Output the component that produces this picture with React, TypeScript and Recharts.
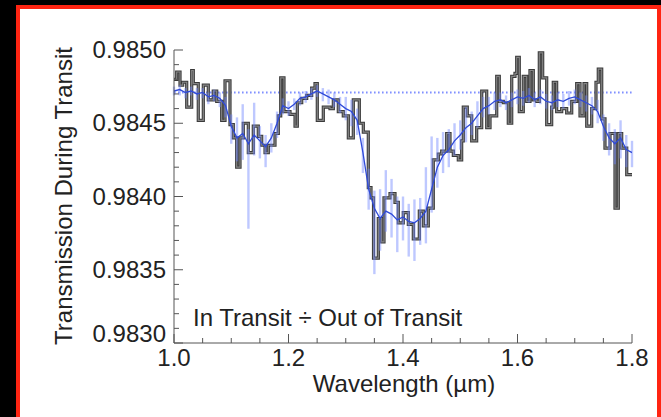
import { ComposedChart, ErrorBar, Line, ReferenceLine, XAxis, YAxis } from 'recharts';

// binned transmission spectrum: left bin edges (µm) and bin values
const binEdges = [
    1.0, 1.0047, 1.0105, 1.0152, 1.0222, 1.0309, 1.0337, 1.0424, 1.0512, 1.0599,
    1.0686, 1.0746, 1.0833, 1.0891, 1.0978, 1.1036, 1.1095, 1.1153, 1.121, 1.1298,
    1.1385, 1.1472, 1.1532, 1.159, 1.1647, 1.1764, 1.1822, 1.1864, 1.1921, 1.2026,
    1.2114, 1.2154, 1.2231, 1.2318, 1.2405, 1.2463, 1.2503, 1.2608, 1.2725, 1.2783,
    1.287, 1.2957, 1.3045, 1.3132, 1.3237, 1.3307, 1.3394, 1.3441, 1.3485, 1.3569,
    1.3628, 1.3668, 1.3773, 1.386, 1.3918, 1.4005, 1.4093, 1.418, 1.4285, 1.4355,
    1.4442, 1.4529, 1.4617, 1.4676, 1.4763, 1.4821, 1.4879, 1.4966, 1.5025, 1.5053,
    1.5123, 1.52, 1.5287, 1.5375, 1.5462, 1.552, 1.5637, 1.5682, 1.5752, 1.5839,
    1.5899, 1.5956, 1.5986, 1.6031, 1.6101, 1.6161, 1.6218, 1.6276, 1.6335, 1.6381,
    1.644, 1.651, 1.6597, 1.6625, 1.6684, 1.6772, 1.6859, 1.6947, 1.7034, 1.7092,
    1.7162, 1.7209, 1.7296, 1.7371, 1.7411, 1.7471, 1.7528, 1.7616, 1.7703, 1.7761,
    1.782, 1.7908, 1.8,
];
const binValues = [
    0.9848, 0.98485, 0.98476, 0.98478, 0.98461, 0.98486, 0.98477, 0.98452, 0.98476, 0.98466,
    0.98472, 0.98465, 0.98452, 0.98479, 0.98449, 0.9844, 0.9842, 0.9844, 0.9845, 0.9843,
    0.98448, 0.98441, 0.98435, 0.9843, 0.98435, 0.98443, 0.98455, 0.98481, 0.98458, 0.98456,
    0.98448, 0.98464, 0.98467, 0.98469, 0.98474, 0.98477, 0.98452, 0.98461, 0.9846, 0.98466,
    0.98458, 0.98455, 0.9844, 0.98466, 0.9845, 0.98444, 0.98406, 0.98399, 0.98358, 0.98385,
    0.98369, 0.98399, 0.98402, 0.98396, 0.98382, 0.98389, 0.98381, 0.98371, 0.9839, 0.9838,
    0.98392, 0.98425, 0.98429, 0.98431, 0.98443, 0.98431, 0.98428, 0.98425, 0.98438, 0.98461,
    0.98455, 0.98438, 0.98447, 0.98472, 0.98447, 0.98455, 0.98482, 0.98465, 0.98464, 0.9845,
    0.98482, 0.98484, 0.98495, 0.98458, 0.98482, 0.98465, 0.98486, 0.98466, 0.98465, 0.98498,
    0.98481, 0.98449, 0.98461, 0.98478, 0.98458, 0.9846, 0.98457, 0.98465, 0.98477, 0.98455,
    0.98477, 0.98448, 0.9846, 0.98478, 0.98487, 0.98453, 0.98433, 0.98443, 0.98392, 0.98443,
    0.98433, 0.98415,
];

// higher resolution spectrum with asymmetric errors (errors in units of 1e-5)
const fineWave = [
    1.0, 1.01, 1.02, 1.03, 1.04, 1.05, 1.06, 1.07, 1.08, 1.09,
    1.1, 1.11, 1.12, 1.13, 1.14, 1.15, 1.16, 1.17, 1.18, 1.19,
    1.2, 1.21, 1.22, 1.23, 1.24, 1.25, 1.26, 1.27, 1.28, 1.29,
    1.3, 1.31, 1.32, 1.33, 1.34, 1.35, 1.36, 1.37, 1.38, 1.39,
    1.4, 1.41, 1.42, 1.43, 1.44, 1.45, 1.46, 1.47, 1.48, 1.49,
    1.5, 1.51, 1.52, 1.53, 1.54, 1.55, 1.56, 1.57, 1.58, 1.59,
    1.6, 1.61, 1.62, 1.63, 1.64, 1.65, 1.66, 1.67, 1.68, 1.69,
    1.7, 1.71, 1.72, 1.73, 1.74, 1.75, 1.76, 1.77, 1.78, 1.79,
    1.8,
];
const fineFlux = [
    0.98472, 0.98473, 0.98471, 0.98472, 0.9847, 0.98471, 0.98468, 0.98469, 0.98467, 0.98462,
    0.98448, 0.9844, 0.98443, 0.98436, 0.98442, 0.98438, 0.98434, 0.9844, 0.9845, 0.98462,
    0.9846, 0.98463, 0.98467, 0.98468, 0.9847, 0.98472, 0.9847, 0.98468, 0.98466, 0.98463,
    0.9846, 0.98458, 0.98452, 0.9843, 0.98405, 0.98392, 0.98385, 0.9839, 0.98388, 0.98384,
    0.98386, 0.98383, 0.98382, 0.98385, 0.9839, 0.98405, 0.9842, 0.98428, 0.98432, 0.98438,
    0.98442, 0.98447, 0.9845, 0.98455, 0.9846, 0.98462, 0.98465, 0.98466, 0.98464, 0.98466,
    0.98468, 0.98467, 0.98469, 0.98466, 0.98468, 0.98465, 0.98464, 0.98466, 0.98465, 0.98467,
    0.98468, 0.98466, 0.98464, 0.98462, 0.98458, 0.98448, 0.9844, 0.98436, 0.9844, 0.98432,
    0.9843,
];
const errLow = [
    3, 4, 4, 3, 4, 4, 5, 4, 6, 8,
    12, 16, 18, 58, 14, 12, 14, 10, 10, 6,
    5, 4, 5, 4, 4, 4, 5, 5, 5, 6,
    8, 10, 10, 14, 14, 45, 22, 14, 16, 22,
    16, 24, 26, 18, 22, 16, 14, 12, 12, 10,
    10, 10, 8, 8, 6, 6, 6, 5, 5, 5,
    5, 5, 5, 5, 5, 5, 5, 5, 5, 5,
    5, 5, 6, 6, 8, 10, 12, 14, 14, 12,
    10,
];
const errHigh = [
    3, 3, 3, 3, 4, 3, 3, 4, 4, 6,
    8, 14, 20, 10, 22, 10, 8, 10, 8, 5,
    5, 4, 4, 4, 4, 4, 4, 5, 5, 5,
    8, 8, 8, 10, 14, 12, 20, 28, 24, 16,
    14, 12, 16, 14, 30, 36, 20, 16, 14, 12,
    10, 14, 8, 10, 8, 6, 6, 5, 5, 5,
    5, 5, 5, 5, 5, 5, 5, 5, 5, 5,
    5, 5, 5, 6, 8, 8, 10, 10, 12, 10,
    8,
];

const outOfTransitLevel = 0.98471;

const xTicks = [
    1.0, 1.05, 1.1, 1.15, 1.2, 1.25, 1.3, 1.35, 1.4, 1.45, 1.5, 1.55, 1.6, 1.65, 1.7, 1.75, 1.8,
];
const yTicks = [
    0.983, 0.9831, 0.9832, 0.9833, 0.9834, 0.9835, 0.9836, 0.9837, 0.9838, 0.9839, 0.984,
    0.9841, 0.9842, 0.9843, 0.9844, 0.9845, 0.9846, 0.9847, 0.9848, 0.9849, 0.985,
];

const histogram = binEdges.map((w, i) => ({ w, v: binValues[Math.min(i, binValues.length - 1)] }));
const fine = fineWave.map((w, i) => ({
    w,
    v: fineFlux[i],
    err: [errLow[i] * 1e-5, errHigh[i] * 1e-5],
}));

const FONT = '"Liberation Sans", Arial, Helvetica, sans-serif';
const INK = '#222';
const AXIS = '#555';

const onStep = (v: number, step: number) => Math.abs(v / step - Math.round(v / step)) < 1e-4;

function XTick(props: any) {
    const { x, y, payload, dir, labelled } = props;
    const major = onStep(payload.value, 0.2);
    const len = major ? 9 : 5;
    return (
        <g>
            <line x1={x} x2={x} y1={y} y2={y + dir * len} stroke={AXIS} strokeWidth={1} />
            {labelled && major && (
                <text x={x} y={y + 23} textAnchor='middle' fontSize={24} fontFamily={FONT} fill={INK}>
                    {payload.value.toFixed(1)}
                </text>
            )}
        </g>
    );
}

function YTick(props: any) {
    const { x, y, payload, dir, labelled } = props;
    const major = onStep(payload.value, 0.0005);
    const len = major ? 9 : 5;
    // the lowest label is lifted clear of the wavelength labels
    const lift = payload.value < 0.98305 ? -9 : 0;
    return (
        <g>
            <line x1={x} x2={x + dir * len} y1={y} y2={y} stroke={AXIS} strokeWidth={1} />
            {labelled && major && (
                <text x={x - 8} y={y + 8 + lift} textAnchor='end' fontSize={24} fontFamily={FONT} fill={INK}>
                    {payload.value.toFixed(4)}
                </text>
            )}
        </g>
    );
}

export default function App() {
    return (
        <div style={{ position: 'absolute', left: 0, top: 0, width: 661, height: 417, background: '#000', overflow: 'hidden' }}>
            <div
                style={{
                    position: 'absolute',
                    left: 16,
                    top: 5,
                    width: 645,
                    height: 430,
                    boxSizing: 'border-box',
                    border: '4px solid #ff2412',
                    background: '#fff',
                }}
            />
            <div style={{ position: 'absolute', left: 0, top: 0 }}>
                <ComposedChart width={661} height={417} margin={{ top: 50, right: 29, bottom: 14, left: 74 }}>
                    <XAxis
                        xAxisId='bottom'
                        dataKey='w'
                        type='number'
                        domain={[1.0, 1.8]}
                        ticks={xTicks}
                        interval={0}
                        allowDataOverflow
                        height={60}
                        tickSize={0}
                        tickMargin={0}
                        axisLine={{ stroke: AXIS }}
                        tickLine={false}
                        tick={(p: any) => <XTick {...p} dir={-1} labelled />}
                    />
                    <XAxis
                        xAxisId='top'
                        orientation='top'
                        dataKey='w'
                        type='number'
                        domain={[1.0, 1.8]}
                        ticks={xTicks}
                        interval={0}
                        allowDataOverflow
                        height={0}
                        tickSize={0}
                        tickMargin={0}
                        axisLine={{ stroke: AXIS }}
                        tickLine={false}
                        tick={(p: any) => <XTick {...p} dir={1} />}
                    />
                    <YAxis
                        yAxisId='left'
                        type='number'
                        domain={[0.983, 0.985]}
                        ticks={yTicks}
                        interval={0}
                        allowDataOverflow
                        width={100}
                        tickSize={0}
                        tickMargin={0}
                        axisLine={{ stroke: AXIS }}
                        tickLine={false}
                        tick={(p: any) => <YTick {...p} dir={1} labelled />}
                    />
                    <YAxis
                        yAxisId='right'
                        orientation='right'
                        type='number'
                        domain={[0.983, 0.985]}
                        ticks={yTicks}
                        interval={0}
                        allowDataOverflow
                        width={0}
                        tickSize={0}
                        tickMargin={0}
                        axisLine={{ stroke: AXIS }}
                        tickLine={false}
                        tick={(p: any) => <YTick {...p} dir={-1} />}
                    />

                    <ReferenceLine
                        xAxisId='bottom'
                        yAxisId='left'
                        y={outOfTransitLevel}
                        stroke='#8090ff'
                        strokeWidth={1.8}
                        strokeDasharray='1.6 2.4'
                    />

                    {/* binned spectrum: dark edge with a grey core */}
                    <Line
                        xAxisId='bottom'
                        yAxisId='left'
                        data={histogram}
                        dataKey='v'
                        type='stepAfter'
                        stroke='#3a3a3a'
                        strokeWidth={3.2}
                        dot={false}
                        isAnimationActive={false}
                    />
                    <Line
                        xAxisId='bottom'
                        yAxisId='left'
                        data={histogram}
                        dataKey='v'
                        type='stepAfter'
                        stroke='#858585'
                        strokeWidth={1.2}
                        dot={false}
                        isAnimationActive={false}
                    />

                    {/* fine spectrum error bars, then its line on top */}
                    <Line
                        xAxisId='bottom'
                        yAxisId='left'
                        data={fine}
                        dataKey='v'
                        stroke='none'
                        dot={false}
                        isAnimationActive={false}
                    >
                        <ErrorBar dataKey='err' direction='y' width={0} stroke='#6f86ff' strokeOpacity={0.45} strokeWidth={2.4} />
                    </Line>
                    <Line
                        xAxisId='bottom'
                        yAxisId='left'
                        data={fine}
                        dataKey='v'
                        type='linear'
                        stroke='#2f4ad8'
                        strokeWidth={1.3}
                        dot={false}
                        isAnimationActive={false}
                    />
                </ComposedChart>
            </div>
            <svg width={661} height={417} style={{ position: 'absolute', left: 0, top: 0, pointerEvents: 'none' }}>
                <text
                    transform='translate(63,196) rotate(-90)'
                    textAnchor='middle'
                    dominantBaseline='central'
                    fontSize={24}
                    fontFamily={FONT}
                    fill={INK}
                >
                    Transmission During Transit
                </text>
                <text x={404} y={392} textAnchor='middle' fontSize={24} fontFamily={FONT} fill={INK}>
                    Wavelength (µm)
                </text>
                <text x={193} y={326} fontSize={24} fontFamily={FONT} fill={INK}>
                    In Transit ÷ Out of Transit
                </text>
            </svg>
        </div>
    );
}
